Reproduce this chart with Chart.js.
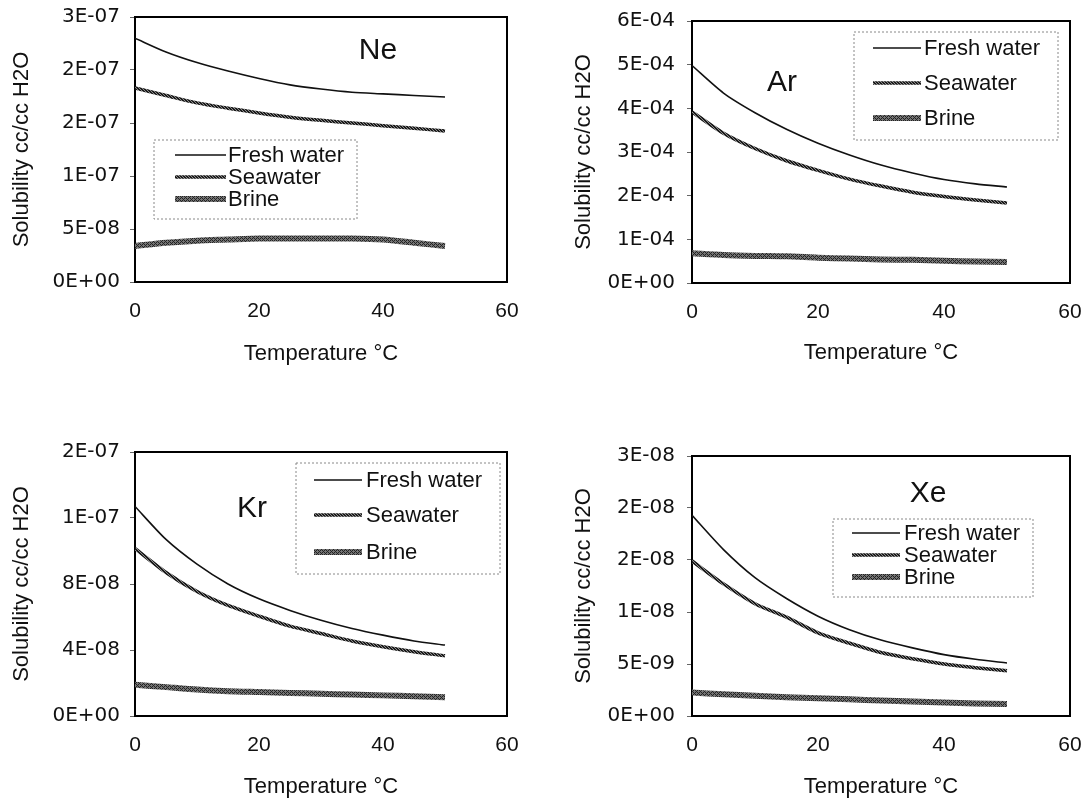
<!DOCTYPE html>
<html>
<head>
<meta charset="utf-8">
<title>Noble gas solubility</title>
<script src="https://cdn.jsdelivr.net/npm/chart.js@4.4.1/dist/chart.umd.min.js"></script>
<style>
  body { margin: 0; background: #fff; }
  #wrap { position: relative; width: 1083px; height: 800px; }
  canvas { position: absolute; }
</style>
</head>
<body>
<div id="wrap">
  <canvas id="ne" width="541" height="400" style="left:0;top:0"></canvas>
  <canvas id="ar" width="541" height="400" style="left:541px;top:0"></canvas>
  <canvas id="kr" width="541" height="400" style="left:0;top:400px"></canvas>
  <canvas id="xe" width="541" height="400" style="left:541px;top:400px"></canvas>
</div>
<script>
// temperatures (°C) the curves are given at
const temps = [0, 5, 10, 15, 20, 25, 30, 35, 40, 45, 50]
const seriesNames = ['Fresh water', 'Seawater', 'Brine']
const xTicks = ['0', '20', '40', '60']

// solubility, cc/cc H2O
const neFresh = [2.30e-7, 2.17e-7, 2.07e-7, 1.99e-7, 1.92e-7, 1.86e-7, 1.82e-7, 1.79e-7, 1.775e-7, 1.76e-7, 1.745e-7]
const neSea   = [1.83e-7, 1.76e-7, 1.69e-7, 1.64e-7, 1.595e-7, 1.555e-7, 1.525e-7, 1.50e-7, 1.475e-7, 1.45e-7, 1.425e-7]
const neBrine = [0.34e-7, 0.37e-7, 0.39e-7, 0.40e-7, 0.41e-7, 0.41e-7, 0.41e-7, 0.41e-7, 0.40e-7, 0.37e-7, 0.34e-7]
const neTicks = ['0E+00', '5E-08', '1E-07', '2E-07', '2E-07', '3E-07']

const arFresh = [4.98e-4, 4.35e-4, 3.90e-4, 3.52e-4, 3.20e-4, 2.93e-4, 2.70e-4, 2.52e-4, 2.37e-4, 2.27e-4, 2.20e-4]
const arSea   = [3.92e-4, 3.43e-4, 3.08e-4, 2.80e-4, 2.58e-4, 2.38e-4, 2.22e-4, 2.08e-4, 1.98e-4, 1.90e-4, 1.83e-4]
const arBrine = [0.68e-4, 0.64e-4, 0.62e-4, 0.61e-4, 0.58e-4, 0.56e-4, 0.54e-4, 0.53e-4, 0.51e-4, 0.49e-4, 0.48e-4]
const arTicks = ['0E+00', '1E-04', '2E-04', '3E-04', '4E-04', '5E-04', '6E-04']

const krFresh = [1.27e-7, 1.07e-7, 0.92e-7, 0.80e-7, 0.71e-7, 0.64e-7, 0.58e-7, 0.53e-7, 0.49e-7, 0.455e-7, 0.43e-7]
const krSea   = [1.015e-7, 0.87e-7, 0.755e-7, 0.67e-7, 0.605e-7, 0.545e-7, 0.50e-7, 0.455e-7, 0.42e-7, 0.39e-7, 0.365e-7]
const krBrine = [0.19e-7, 0.175e-7, 0.16e-7, 0.15e-7, 0.145e-7, 0.14e-7, 0.135e-7, 0.13e-7, 0.125e-7, 0.12e-7, 0.113e-7]
const krTicks = ['0E+00', '4E-08', '8E-08', '1E-07', '2E-07']

const xeFresh = [1.93e-8, 1.60e-8, 1.33e-8, 1.13e-8, 0.96e-8, 0.83e-8, 0.73e-8, 0.655e-8, 0.59e-8, 0.545e-8, 0.51e-8]
const xeSea   = [1.49e-8, 1.27e-8, 1.08e-8, 0.95e-8, 0.80e-8, 0.70e-8, 0.61e-8, 0.55e-8, 0.50e-8, 0.465e-8, 0.435e-8]
const xeBrine = [0.225e-8, 0.21e-8, 0.195e-8, 0.18e-8, 0.17e-8, 0.16e-8, 0.15e-8, 0.14e-8, 0.13e-8, 0.12e-8, 0.115e-8]
const xeTicks = ['0E+00', '5E-09', '1E-08', '2E-08', '2E-08', '3E-08']

Chart.defaults.font.family = '"Liberation Sans", Arial, sans-serif'
Chart.defaults.color = '#111'

// little textures so the thick lines look like the printed ones
function hatch(bg, fg, size, cells) {
  const c = document.createElement('canvas')
  c.width = size; c.height = size
  const g = c.getContext('2d')
  g.fillStyle = bg
  g.fillRect(0, 0, size, size)
  g.fillStyle = fg
  cells.forEach(p => g.fillRect(p[0], p[1], 1, 1))
  return g.createPattern(c, 'repeat')
}
const seaStroke = hatch('#1a1a1a', '#8c8c8c', 3, [[0, 0], [1, 1], [2, 2]])
const brineStroke = hatch('#737373', '#222', 4, [[0, 0], [1, 1], [2, 2], [3, 3], [0, 2], [2, 0]])

const lineStyles = [
  { borderColor: '#111', borderWidth: 1.6 },
  { borderColor: seaStroke, borderWidth: 3.5 },
  { borderColor: brineStroke, borderWidth: 6 }
]

// black box round the plot area
const frame = {
  id: 'frame',
  beforeDatasetsDraw(chart) {
    const a = chart.chartArea, ctx = chart.ctx
    ctx.save()
    ctx.strokeStyle = '#000'
    ctx.lineWidth = 2
    ctx.strokeRect(a.left, a.top, a.right - a.left, a.bottom - a.top)
    ctx.restore()
  }
}

// dotted legend box plus the gas name, drawn where each panel wants them
const boxLegend = {
  id: 'boxLegend',
  afterDraw(chart, args, o) {
    const ctx = chart.ctx
    ctx.save()
    ctx.setLineDash([2, 2])
    ctx.strokeStyle = '#888'
    ctx.lineWidth = 1
    ctx.strokeRect(o.box[0], o.box[1], o.box[2] - o.box[0], o.box[3] - o.box[1])
    ctx.setLineDash([])
    ctx.font = '22px "Liberation Sans", Arial, sans-serif'
    ctx.textBaseline = 'middle'
    ctx.fillStyle = '#111'
    chart.data.datasets.forEach((ds, i) => {
      const y = o.rows[i]
      ctx.strokeStyle = ds.borderColor
      ctx.lineWidth = ds.borderWidth
      ctx.beginPath()
      ctx.moveTo(o.line[0], y)
      ctx.lineTo(o.line[1], y)
      ctx.stroke()
      ctx.fillText(ds.label, o.textX, y + 1)
    })
    ctx.font = '30px "Liberation Sans", Arial, sans-serif'
    ctx.textAlign = 'center'
    ctx.fillText(o.name, o.nameAt[0], o.nameAt[1])
    ctx.restore()
  }
}

function makePanel(id, name, series, tickLabels, step, p) {
  const datasets = series.map((vals, i) => Object.assign({
    label: seriesNames[i],
    data: temps.map((t, j) => ({ x: t, y: vals[j] })),
    pointRadius: 0,
    tension: 0.25,
    fill: false
  }, lineStyles[i]))

  new Chart(document.getElementById(id), {
    type: 'line',
    data: { datasets: datasets },
    options: {
      responsive: false,
      animation: false,
      devicePixelRatio: 1,
      layout: { padding: { left: 0, top: p.top, right: 541 - p.right, bottom: p.padBottom } },
      plugins: {
        legend: { display: false },
        tooltip: { enabled: false },
        boxLegend: { box: p.box, rows: p.rows, line: p.line, textX: p.textX, name: name, nameAt: p.nameAt }
      },
      scales: {
        x: {
          type: 'linear',
          min: 0, max: 60,
          afterBuildTicks: s => { s.ticks = xTicks.map(v => ({ value: Number(v) })) },
          // keep the end labels from pushing the plot edges in
          afterFit: s => { s.height = p.xHeight; s.paddingLeft = 0; s.paddingRight = 0 },
          grid: { display: false, drawTicks: false },
          border: { display: false },
          ticks: { padding: 17, font: { size: 21 }, color: '#111', callback: (v, i) => xTicks[i] },
          title: { display: true, text: 'Temperature °C', font: { size: 22 }, color: '#111', padding: 0 }
        },
        y: {
          min: 0,
          max: step * (tickLabels.length - 1),
          afterBuildTicks: s => { s.ticks = tickLabels.map((v, i) => ({ value: i * step })) },
          afterFit: s => { s.width = p.left; s.paddingTop = 0; s.paddingBottom = 0 },
          grid: { display: true, drawOnChartArea: false, drawTicks: true, tickLength: 5, color: '#666' },
          border: { display: false },
          ticks: { padding: p.tickPad, font: { family: '"DejaVu Sans", sans-serif', size: 20 }, color: '#111',
                   callback: (v, i) => tickLabels[i] },
          title: { display: true, text: 'Solubility cc/cc H2O', font: { size: 22 }, color: '#111',
                   padding: { top: p.yTitle - 13.2, bottom: 0 } }
        }
      }
    },
    plugins: [frame, boxLegend]
  })
}

makePanel('ne', 'Ne', [neFresh, neSea, neBrine], neTicks, 5e-8, {
  left: 135, right: 507, top: 17, padBottom: 33, xHeight: 85, tickPad: 10, yTitle: 22,
  box: [154, 140, 357, 219], rows: [155, 177, 199], line: [175, 226], textX: 228, nameAt: [378, 51]
})
makePanel('ar', 'Ar', [arFresh, arSea, arBrine], arTicks, 1e-4, {
  left: 151, right: 529, top: 21, padBottom: 34, xHeight: 83, tickPad: 12, yTitle: 43,
  box: [313, 32, 517, 140], rows: [48, 83, 118], line: [332, 380], textX: 383, nameAt: [241, 83]
})
makePanel('kr', 'Kr', [krFresh, krSea, krBrine], krTicks, 4e-8, {
  left: 135, right: 507, top: 52, padBottom: 0, xHeight: 84, tickPad: 10, yTitle: 22,
  box: [296, 63, 500, 174], rows: [80, 115, 152], line: [314, 362], textX: 366, nameAt: [252, 109]
})
makePanel('xe', 'Xe', [xeFresh, xeSea, xeBrine], xeTicks, 5e-9, {
  left: 151, right: 529, top: 56, padBottom: 0, xHeight: 84, tickPad: 12, yTitle: 43,
  box: [292, 119, 492, 197], rows: [133, 155, 177], line: [311, 359], textX: 363, nameAt: [387, 94]
})
</script>
</body>
</html>
